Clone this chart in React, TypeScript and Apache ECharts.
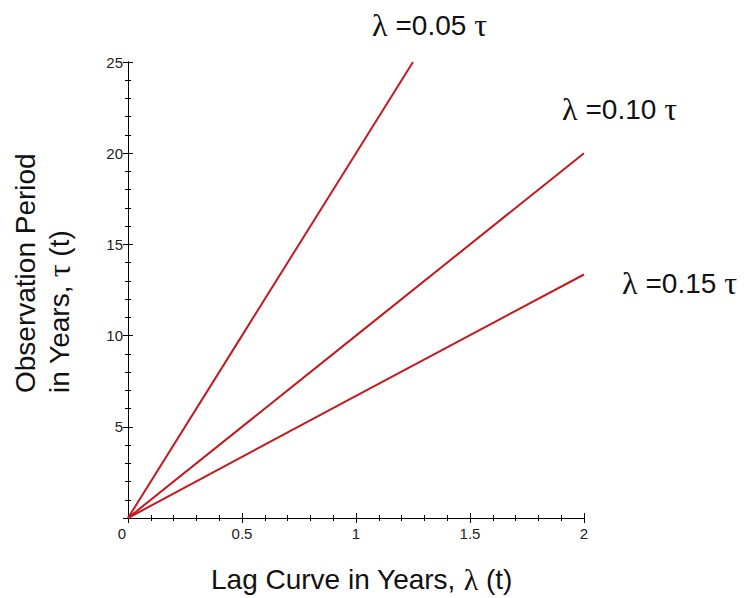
import React, { useEffect, useRef } from "react";
import * as echarts from "echarts";

// Data
const lagA = [0, 0.5, 1, 1.25];
const tauA = [0, 10, 20, 25];
const lagB = [0, 1, 2];
const tauB = [0, 10, 20];
const lagC = [0, 1, 2];
const tauC = [0, 6.7, 13.35];

const xTicks = { min: 0, max: 2, interval: 0.5 };
const yTicks = { min: 0, max: 25, interval: 5 };

const seriesNames = ["λ =0.05 τ", "λ =0.10 τ", "λ =0.15 τ"];

const RED = "#c41a1f";
const SANS = "'Liberation Sans', Arial, sans-serif";
const SERIF = "'Liberation Serif', 'Times New Roman', serif";

function pairs(xs: number[], ys: number[]) {
  return xs.map((x, i) => [x, ys[i]]);
}

export default function App() {
  const ref = useRef<HTMLDivElement>(null);
  useEffect(() => {
    if (!ref.current) return;
    const chart = echarts.init(ref.current, undefined, { renderer: "svg" });
    const axisLine = { show: true, onZero: false, lineStyle: { color: "#000", width: 1 } };
    const baseX = {
      type: "value",
      min: xTicks.min,
      max: xTicks.max,
      interval: xTicks.interval,
      position: "bottom",
      axisLine,
      splitLine: { show: false },
    };
    const baseY = {
      type: "value",
      min: yTicks.min,
      max: yTicks.max,
      interval: yTicks.interval,
      position: "left",
      axisLine,
      splitLine: { show: false },
    };
    const annot = (txt: string, x: number, y: number) => {
      const parts = txt.split(" ");
      return {
        type: "text",
        x,
        y,
        style: {
          text: `{g|${parts[0]} }{n|${parts[1]}}{g| ${parts[2]}}`,
          textAlign: "left",
          textVerticalAlign: "middle",
          rich: {
            g: { fontFamily: SERIF, fontSize: 32, fill: "#111" },
            n: { fontFamily: SANS, fontSize: 28, fill: "#111" },
          },
        },
      };
    };
    chart.setOption({
      animation: false,
      backgroundColor: "#fff",
      grid: { left: 128, top: 62, width: 456, height: 456, containLabel: false },
      xAxis: [
        {
          ...baseX,
          axisTick: { show: true, inside: false, length: 5, lineStyle: { color: "#000" } },
          minorTick: { show: true, splitNumber: 5, length: 3, lineStyle: { color: "#000" } },
          axisLabel: {
            show: true,
            margin: 8,
            fontFamily: SANS,
            fontSize: 15,
            color: "#222",
            formatter: (v: number) => (v === 0 ? "{z|0}" : String(v)),
            rich: { z: { fontFamily: SANS, fontSize: 15, color: "#222", padding: [0, 12, 0, 0] } },
          },
        },
        {
          ...baseX,
          axisTick: { show: true, inside: true, length: 5, lineStyle: { color: "#000" } },
          minorTick: { show: true, splitNumber: 5, length: 3, lineStyle: { color: "#000" } },
          axisLabel: { show: false },
        },
      ],
      yAxis: [
        {
          ...baseY,
          axisTick: { show: true, inside: false, length: 5, lineStyle: { color: "#000" } },
          minorTick: { show: true, splitNumber: 5, length: 3, lineStyle: { color: "#000" } },
          axisLabel: {
            show: true,
            showMinLabel: false,
            margin: 5,
            fontFamily: SANS,
            fontSize: 15,
            color: "#222",
          },
        },
        {
          ...baseY,
          axisTick: { show: true, inside: true, length: 5, lineStyle: { color: "#000" } },
          minorTick: { show: true, splitNumber: 5, length: 3, lineStyle: { color: "#000" } },
          axisLabel: { show: false },
        },
      ],
      series: [
        { name: seriesNames[0], data: pairs(lagA, tauA) },
        { name: seriesNames[1], data: pairs(lagB, tauB) },
        { name: seriesNames[2], data: pairs(lagC, tauC) },
      ].map((s) => ({
        ...s,
        type: "line",
        xAxisIndex: 0,
        yAxisIndex: 0,
        showSymbol: false,
        symbol: "none",
        lineStyle: { color: RED, width: 2 },
        z: 1,
      })),
      graphic: [
        annot(seriesNames[0], 372, 25),
        annot(seriesNames[1], 562, 109),
        annot(seriesNames[2], 622, 283),
        {
          type: "text",
          x: 211,
          y: 579,
          style: {
            text: "{n|Lag Curve in Years, }{g|λ}{n| (t)}",
            textAlign: "left",
            textVerticalAlign: "middle",
            rich: {
              g: { fontFamily: SERIF, fontSize: 30, fill: "#111", lineHeight: 30 },
              n: { fontFamily: SANS, fontSize: 28, fill: "#111", lineHeight: 30 },
            },
          },
        },
        {
          type: "text",
          x: 8,
          y: 393,
          rotation: Math.PI / 2,
          style: {
            text: "{n|Observation Period}\n{n|in Years, }{g|τ}{n| (t)}",
            textAlign: "left",
            textVerticalAlign: "top",
            rich: {
              g: { fontFamily: SERIF, fontSize: 32, fill: "#111", lineHeight: 34 },
              n: { fontFamily: SANS, fontSize: 28, fill: "#111", lineHeight: 34 },
            },
          },
        },
      ],
    });
    return () => chart.dispose();
  }, []);
  return (
    <div
      ref={ref}
      style={{ position: "fixed", left: 0, top: 0, width: 755, height: 598, background: "#fff" }}
    />
  );
}
